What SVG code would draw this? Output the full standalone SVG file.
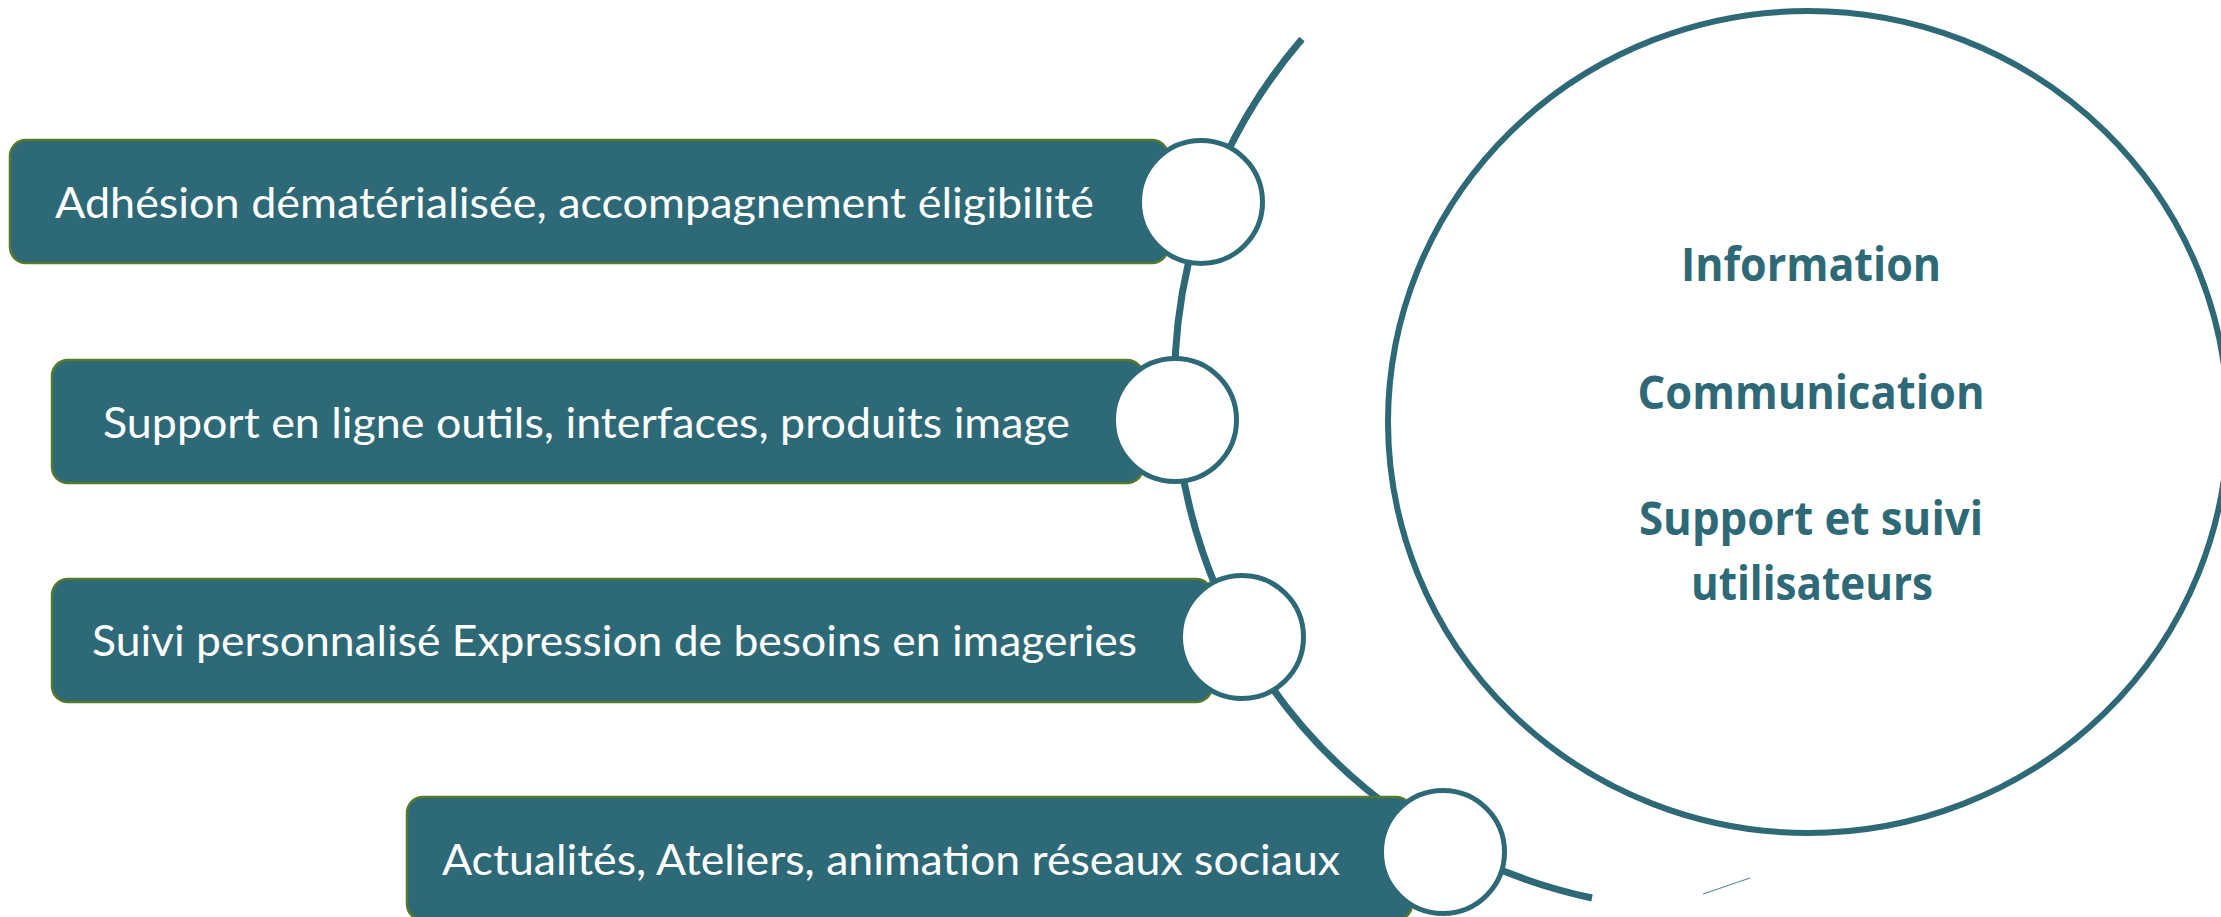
<svg xmlns="http://www.w3.org/2000/svg" width="2221" height="917" viewBox="0 0 2221 917">
<style>
.box{fill:#2E6977;stroke:#557A2C;stroke-width:2.5}
.dot{fill:#FFFFFF;stroke:#2E6977;stroke-width:5}
.lbl{font-family:Lato,"Open Sans","Liberation Sans",sans-serif;font-size:42px;fill:#FFFFFF}
.big{font-family:"Open Sans",Lato,"Liberation Sans",sans-serif;font-size:46px;font-weight:bold;fill:#2E6977;text-anchor:middle}
.arc{fill:none;stroke:#2E6977;stroke-width:7}
</style>
<rect width="2221" height="917" fill="#FFFFFF"/>
<g id="hub">
<ellipse cx="1808" cy="422" rx="420" ry="411" fill="#FFFFFF" stroke="#2E6977" stroke-width="6"/>
<text class="big" x="1811" y="281" textLength="260" lengthAdjust="spacingAndGlyphs">Information</text>
<text class="big" x="1811" y="409" textLength="347" lengthAdjust="spacingAndGlyphs">Communication</text>
<text class="big" x="1811" y="535" textLength="344" lengthAdjust="spacingAndGlyphs">Support et suivi</text>
<text class="big" x="1812" y="600" textLength="242" lengthAdjust="spacingAndGlyphs">utilisateurs</text>
</g>
<g id="connectors">
<path class="arc" d="M 1302 39 A 527 527 0 0 0 1592 898"/>
<line x1="1703" y1="894" x2="1750" y2="878" stroke="#5E8C98" stroke-width="1.2"/>
</g>
<g id="item1">
<rect class="box" x="10" y="140" width="1158" height="123" rx="16"/>
<circle class="dot" cx="1201" cy="202" r="61.5"/>
<text class="lbl" x="55" y="218" textLength="1039" lengthAdjust="spacingAndGlyphs">Adhésion dématérialisée, accompagnement éligibilité</text>
</g>
<g id="item2">
<rect class="box" x="52" y="360" width="1091" height="123" rx="16"/>
<circle class="dot" cx="1175" cy="420" r="61.5"/>
<text class="lbl" x="103" y="438" textLength="967" lengthAdjust="spacingAndGlyphs">Support en ligne outils, interfaces, produits image</text>
</g>
<g id="item3">
<rect class="box" x="52" y="579" width="1160" height="123" rx="16"/>
<circle class="dot" cx="1242" cy="637" r="61.5"/>
<text class="lbl" x="92" y="656" textLength="1045" lengthAdjust="spacingAndGlyphs">Suivi personnalisé Expression de besoins en imageries</text>
</g>
<g id="item4">
<rect class="box" x="407" y="797" width="1005" height="123" rx="16"/>
<circle class="dot" cx="1443" cy="852" r="61.5"/>
<text class="lbl" x="442" y="875" textLength="898" lengthAdjust="spacingAndGlyphs">Actualités, Ateliers, animation réseaux sociaux</text>
</g>
</svg>
